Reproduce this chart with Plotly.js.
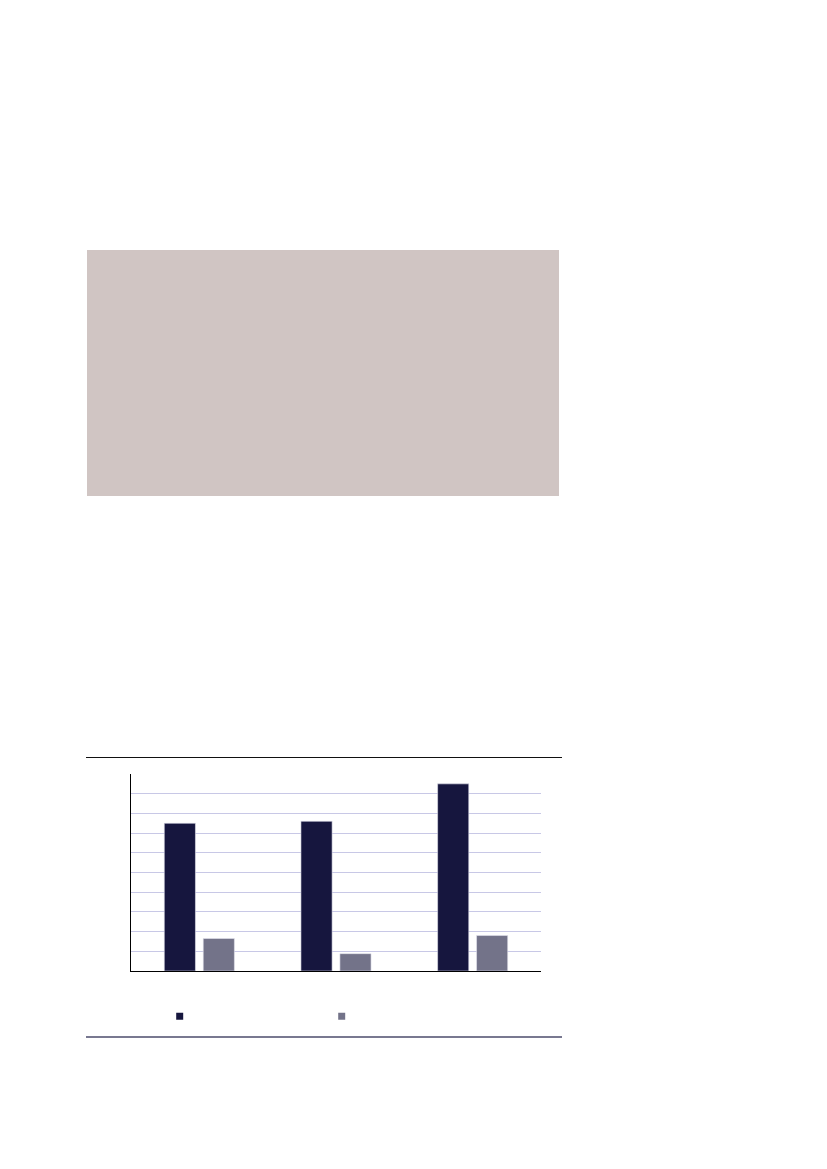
<!DOCTYPE html>
<html>
<head>
<meta charset="utf-8">
<script src="https://cdn.plot.ly/plotly-3.0.1.min.js"></script>
<style>
  html, body { margin: 0; padding: 0; background: #ffffff; }
  #page { position: relative; width: 827px; height: 1169px; overflow: hidden; }
  .box { position: absolute; left: 87px; top: 250px; width: 472px; height: 246px; background: #d0c5c3; }
  .rule-top { position: absolute; left: 86px; top: 757px; width: 476px; height: 1px; background: #111111; }
  .rule-bottom { position: absolute; left: 86px; top: 1036px; width: 476px; height: 2px; background: #787890; }
  #chart { position: absolute; left: 0; top: 0; width: 827px; height: 1169px; }
</style>
</head>
<body>
<div id="page">
  <div class="box"></div>
  <div id="chart"></div>
  <div class="rule-top"></div>
  <div class="rule-bottom"></div>
</div>
<script>
var categories = ['1', '2', '3'];
var series1 = [7.5, 7.6, 9.5];
var series2 = [1.65, 0.88, 1.8];

var dark = '#16163e';
var grey = '#737389';

var config = {
    staticPlot: true
};

var trace1 = {
    x: categories,
    y: series1,
    type: 'bar',
    marker: { color: dark, line: { color: '#e4e4ee', width: 0.6 } },
    showlegend: false
};

var trace2 = {
    x: categories,
    y: series2,
    type: 'bar',
    marker: { color: grey, line: { color: '#e4e4ee', width: 0.6 } },
    showlegend: false
};

// legend swatches (no labels in the original)
var key1 = {
    x: [null], y: [null],
    type: 'scatter', mode: 'markers',
    name: ' ',
    marker: { symbol: 'square', size: 7, color: dark },
    showlegend: true
};

var key2 = {
    x: [null], y: [null],
    type: 'scatter', mode: 'markers',
    name: ' ',
    marker: { symbol: 'square', size: 7, color: grey },
    showlegend: true
};

var data = [trace1, trace2, key1, key2];

var layout = {
    width: 827,
    height: 1169,
    paper_bgcolor: 'rgba(0,0,0,0)',
    plot_bgcolor: 'rgba(0,0,0,0)',
    margin: { l: 131, r: 286, t: 774, b: 198, pad: 0 },
    barmode: 'group',
    bargap: 0.43,
    bargroupgap: 0.2,
    xaxis: {
        type: 'category',
        showticklabels: false,
        ticks: '',
        showgrid: false,
        showline: true,
        linecolor: '#000000',
        linewidth: 1.3,
        zeroline: false
    },
    yaxis: {
        range: [0, 10],
        dtick: 1,
        showticklabels: false,
        ticks: '',
        showgrid: true,
        gridcolor: '#c8c8e6',
        gridwidth: 1,
        showline: true,
        linecolor: '#000000',
        linewidth: 1.3,
        zeroline: false
    },
    showlegend: true,
    legend: {
        orientation: 'h',
        x: 0.07,
        xanchor: 'left',
        y: -0.23,
        yanchor: 'middle',
        entrywidth: 117,
        entrywidthmode: 'pixels',
        font: { family: 'Liberation Sans', size: 10, color: '#000000' },
        bgcolor: 'rgba(0,0,0,0)'
    }
};

Plotly.newPlot('chart', data, layout, config);
</script>
</body>
</html>
